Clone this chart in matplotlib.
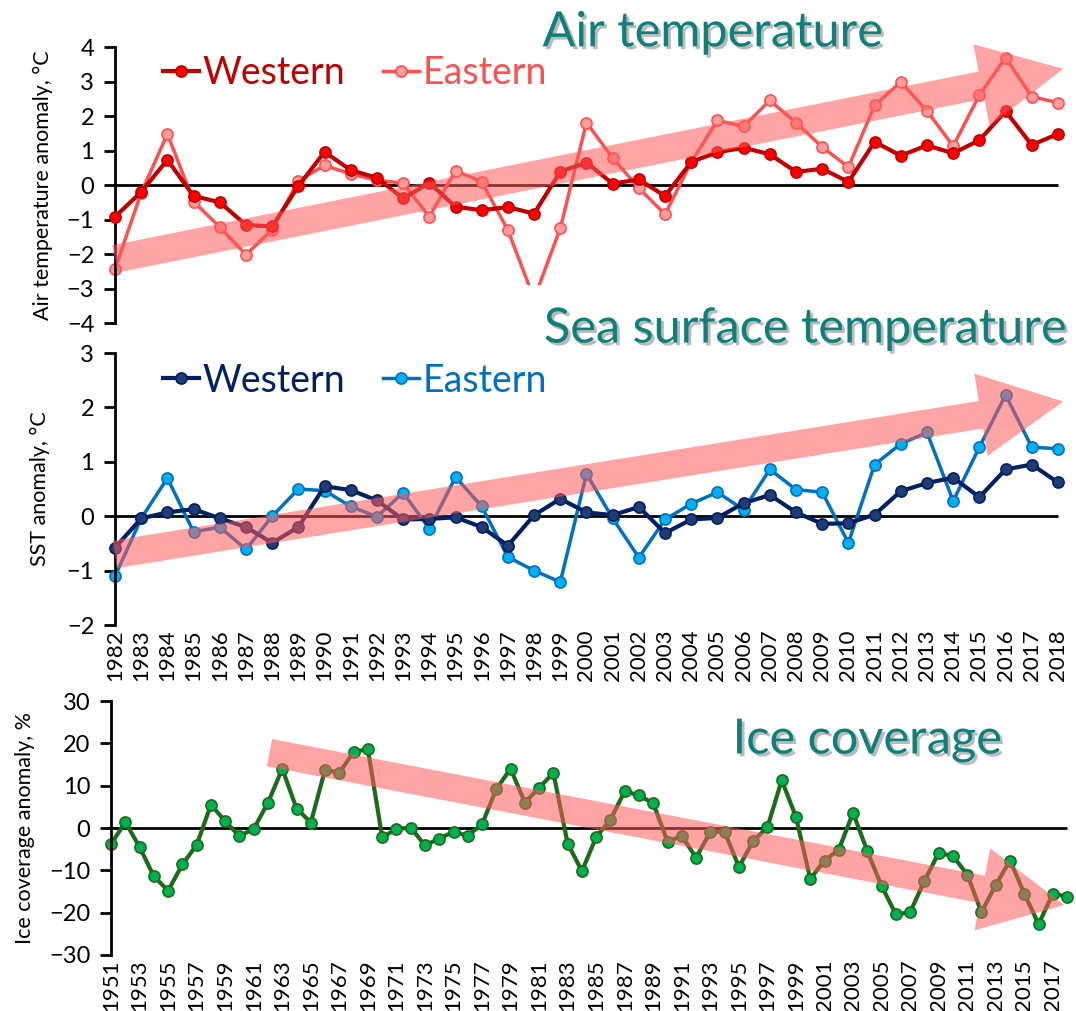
import matplotlib
matplotlib.use("Agg")
import matplotlib.pyplot as plt
import matplotlib.patheffects as pe
from matplotlib.patches import Rectangle

plt.rcParams['font.family'] = ['Lato', 'DejaVu Sans']

# --- air temperature anomaly (1982-2018)
sat_years = list(range(1982, 2019))
sat_west = [-0.92, -0.2, 0.73, -0.32, -0.5, -1.16, -1.2, -0.03, 0.96, 0.43,
            0.21, -0.39, 0.06, -0.63, -0.73, -0.64, -0.83, 0.39, 0.65, 0.04,
            0.16, -0.32, 0.67, 0.95, 1.08, 0.89, 0.38, 0.47, 0.09, 1.25,
            0.85, 1.15, 0.92, 1.3, 2.14, 1.16, 1.48]
sat_east = [-2.43, -0.22, 1.48, -0.48, -1.22, -2.02, -1.29, 0.12, 0.57, 0.32,
            0.14, 0.05, -0.92, 0.42, 0.09, -1.31, -3.3, -1.25, 1.81, 0.78,
            -0.09, -0.85, 0.67, 1.87, 1.7, 2.45, 1.81, 1.1, 0.52, 2.31,
            2.99, 2.15, 1.13, 2.61, 3.69, 2.56, 2.39]

# --- sea surface temperature anomaly (1982-2018)
sst_west = [-0.58, -0.04, 0.07, 0.13, -0.04, -0.2, -0.49, -0.2, 0.55, 0.48,
            0.29, -0.06, -0.05, -0.02, -0.2, -0.54, 0.02, 0.32, 0.07, 0.02,
            0.17, -0.31, -0.06, -0.03, 0.24, 0.39, 0.07, -0.14, -0.13, 0.03,
            0.46, 0.61, 0.71, 0.35, 0.86, 0.95, 0.62]
sst_east = [-1.1, -0.04, 0.7, -0.29, -0.2, -0.61, 0.0, 0.5, 0.47, 0.18,
            -0.01, 0.43, -0.23, 0.72, 0.18, -0.75, -1.0, -1.21, 0.78, -0.04,
            -0.76, -0.06, 0.23, 0.44, 0.12, 0.86, 0.49, 0.44, -0.49, 0.95,
            1.33, 1.54, 0.28, 1.27, 2.23, 1.27, 1.24]

# --- ice coverage anomaly (1951-2018)
ice_years = list(range(1951, 2019))
ice = [-3.8, 1.4, -4.5, -11.4, -14.8, -8.6, -4.0, 5.5, 1.6, -1.9,
       -0.2, 6.0, 14.0, 4.6, 1.3, 13.8, 13.0, 18.0, 18.6, -2.2,
       -0.2, 0.1, -4.1, -2.5, -0.9, -1.8, 0.9, 9.2, 14.0, 6.0,
       9.5, 13.0, -3.7, -10.2, -2.1, 2.0, 8.7, 7.7, 5.8, -3.2,
       -1.9, -7.0, -0.9, -0.9, -9.2, -3.1, 0.2, 11.3, 2.6, -12.0,
       -7.7, -5.1, 3.6, -5.5, -13.7, -20.4, -19.9, -12.5, -5.9, -6.6,
       -11.0, -19.9, -13.4, -7.7, -15.5, -22.7, -15.5, -16.2]

# trend arrows: (start x, start y, end x, end y)
sat_trend = (1982, -2.14, 2018.2, 3.37)
sst_trend = (1982, -0.70, 2018.2, 2.11)
ice_trend = (1962.1, 17.8, 2017.8, -18.2)

TEAL = '#0e7f7b'
ARROW = '#ff5a5a'


def style_axis(ax, ylim, yticks, ylabel, labelpad):
    ax.set_ylim(*ylim)
    ax.set_yticks(yticks)
    for s in ('top', 'right', 'bottom'):
        ax.spines[s].set_visible(False)
    ax.spines['left'].set_linewidth(2)
    ax.tick_params(axis='y', direction='out', length=8, width=2,
                   labelsize=17, pad=7)
    ax.tick_params(axis='x', length=0, pad=3)
    ax.set_ylabel(ylabel, fontsize=15.5, labelpad=labelpad)


def trend(ax, t):
    ax.annotate('', xy=(t[2], t[3]), xytext=(t[0], t[1]),
                arrowprops=dict(arrowstyle='simple,head_length=0.6,head_width=0.6,tail_width=0.2',
                                mutation_scale=100, color=ARROW, alpha=0.55,
                                shrinkA=0, shrinkB=0, lw=0),
                annotation_clip=False, zorder=5)


def legend(ax, y):
    ax.legend(loc='upper left', bbox_to_anchor=(0.035, y), ncol=2, frameon=False,
              fontsize=27, handlelength=0.95, handletextpad=0.1, columnspacing=1.0,
              labelcolor='linecolor', borderaxespad=0)


fig = plt.figure(figsize=(10.76, 10.11), dpi=100)
ax1 = fig.add_axes([0.1069, 0.6805, 0.8885, 0.273])
ax2 = fig.add_axes([0.1069, 0.3818, 0.8885, 0.269])
ax3 = fig.add_axes([0.1032, 0.0554, 0.8965, 0.2512])

# air temperature
ax1.hlines(0, sat_years[0], sat_years[-1], color='black', lw=2, zorder=1)
ax1.plot(sat_years, sat_west, color='#c00000', lw=3, marker='o', ms=8,
         mfc='#ff0000', mec='#c00000', mew=1.2, label='Western', clip_on=False, zorder=3)
ax1.plot(sat_years, sat_east, color='#ff5050', lw=2.5, marker='o', ms=8,
         mfc='#ff9c9c', mec='#ff5050', mew=1.2, label='Eastern', clip_on=False, zorder=2)
ax1.set_xlim(1982, 2018.5)
ax1.set_xticks([])
style_axis(ax1, (-4, 4), range(-4, 5), 'Air temperature anomaly, °C', 10)
trend(ax1, sat_trend)
legend(ax1, 1.025)

# sea surface temperature
ax2.hlines(0, sat_years[0], sat_years[-1], color='black', lw=2, zorder=1)
ax2.plot(sat_years, sst_west, color='#002060', lw=3, marker='o', ms=8,
         mfc='#1f3c75', mec='#002060', mew=1.2, label='Western', clip_on=False, zorder=3)
ax2.plot(sat_years, sst_east, color='#0070c0', lw=2.5, marker='o', ms=8,
         mfc='#00b0f0', mec='#0070c0', mew=1.2, label='Eastern', clip_on=False, zorder=2)
ax2.set_xlim(1982, 2018.5)
ax2.set_xticks(sat_years)
ax2.set_xticklabels([str(y) for y in sat_years], rotation=90, fontsize=16)
style_axis(ax2, (-2, 3), range(-2, 4), 'SST anomaly, °C', 12)
trend(ax2, sst_trend)
legend(ax2, 1.02)

# ice coverage
ax3.hlines(0, ice_years[0], ice_years[-1], color='black', lw=2, zorder=1)
ax3.plot(ice_years, ice, color='#1b6b1b', lw=3, marker='o', ms=8,
         mfc='#00b050', mec='#1b6b1b', mew=1.2, clip_on=False, zorder=2)
ax3.set_xlim(1951, 2018.6)
odd_years = ice_years[::2]
ax3.set_xticks(odd_years)
ax3.set_xticklabels([str(y) for y in odd_years], rotation=90, fontsize=16)
style_axis(ax3, (-30, 30), range(-30, 31, 10), 'Ice coverage anomaly, %', 10)
trend(ax3, ice_trend)

# white block behind the middle title
fig.patches.append(Rectangle((0.483, 0.654), 0.52, 0.064, transform=fig.transFigure,
                             facecolor='white', edgecolor='none', zorder=9))

# panel titles
shadow = [pe.SimplePatchShadow(offset=(2, -2), shadow_rgbFace='#666666', alpha=0.45), pe.Normal()]
fig.text(0.662, 0.968, 'Air temperature', color=TEAL, fontsize=35,
         ha='center', va='center', path_effects=shadow, zorder=10)
fig.text(0.748, 0.675, 'Sea surface temperature', color=TEAL, fontsize=35,
         ha='center', va='center', path_effects=shadow, zorder=10)
fig.text(0.806, 0.268, 'Ice coverage', color=TEAL, fontsize=35,
         ha='center', va='center', path_effects=shadow, zorder=10,
         bbox=dict(facecolor='white', edgecolor='none', pad=8))

fig.savefig('out.png', dpi=100)
